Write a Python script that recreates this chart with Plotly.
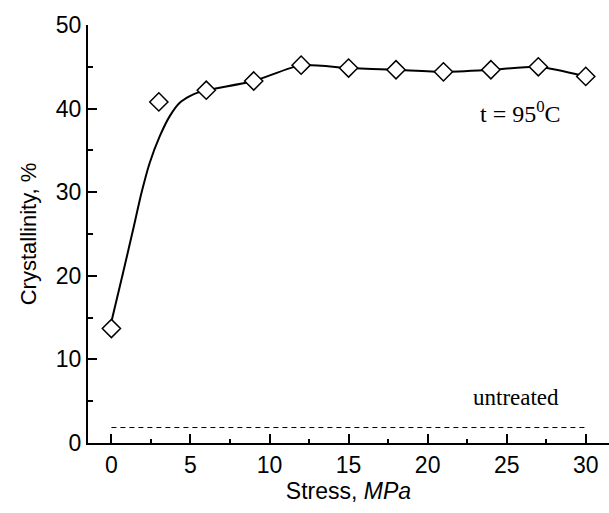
import plotly.graph_objects as go

# Data
stress = [0, 3, 6, 9, 12, 15, 18, 21, 24, 27, 30]
crystallinity = [13.7, 40.8, 42.2, 43.3, 45.2, 44.85, 44.65, 44.4, 44.65, 45.0, 43.85]

# Smooth fitted curve
curve_x = [0, 0.73, 1.37, 1.9, 2.42, 3.06, 3.69, 4.32, 4.96, 5.59, 6, 9, 12, 15, 18, 21, 24, 27, 30]
curve_y = [14.5, 20.3, 25.5, 29.9, 33.5, 36.7, 39.1, 40.7, 41.5, 42.0, 42.2, 43.3, 45.2, 44.85, 44.65, 44.4, 44.65, 45.0, 43.85]

untreated_x = [0, 30]
untreated_y = [1.85, 1.85]

x_ticks = [0, 5, 10, 15, 20, 25, 30]
y_ticks = [0, 10, 20, 30, 40, 50]

fig = go.Figure()
fig.add_trace(go.Scatter(x=untreated_x, y=untreated_y, mode="lines",
                         line=dict(color="black", width=1, dash="5px,4px"),
                         showlegend=False, hoverinfo="skip"))
fig.add_trace(go.Scatter(x=curve_x, y=curve_y, mode="lines",
                         line=dict(color="black", width=2, shape="spline", smoothing=0.6),
                         showlegend=False))
fig.add_trace(go.Scatter(x=stress, y=crystallinity, mode="markers",
                         marker=dict(symbol="diamond", size=14, color="white",
                                     line=dict(color="black", width=1.5)),
                         showlegend=False))

fig.add_annotation(x=25.9, y=39.6, text="t = 95<sup>0</sup>C", showarrow=False,
                   font=dict(family="Liberation Serif", size=24, color="black"))
fig.add_annotation(x=25.6, y=5.5, text="untreated", showarrow=False,
                   font=dict(family="Liberation Serif", size=23, color="black"))

fig.update_xaxes(range=[-1.48, 31.47], tickvals=x_ticks, ticks="inside", ticklen=9, tickwidth=1.5,
                 tickcolor="black", showline=True, linecolor="black", linewidth=2,
                 showgrid=False, zeroline=False,
                 minor=dict(ticks="inside", ticklen=4.5, dtick=2.5, tick0=0, tickcolor="black", tickwidth=1.5),
                 tickfont=dict(family="Liberation Sans", size=23, color="black"),
                 title=dict(text="Stress, <i>MPa</i>", font=dict(family="Liberation Sans", size=23, color="black"),
                            standoff=5))
fig.update_yaxes(range=[0, 50], tickvals=y_ticks, ticks="inside", ticklen=9, tickwidth=1.5,
                 tickcolor="black", showline=True, linecolor="black", linewidth=2,
                 showgrid=False, zeroline=False,
                 minor=dict(ticks="inside", ticklen=4.5, dtick=5, tick0=0, tickcolor="black", tickwidth=1.5),
                 tickfont=dict(family="Liberation Sans", size=23, color="black"),
                 title=dict(text="Crystallinity, %", font=dict(family="Liberation Sans", size=22, color="black"),
                            standoff=13))

fig.update_layout(width=609, height=513, margin=dict(l=88, r=0, t=25, b=70),
                  plot_bgcolor="white", paper_bgcolor="white")

fig.write_html("out.html")
